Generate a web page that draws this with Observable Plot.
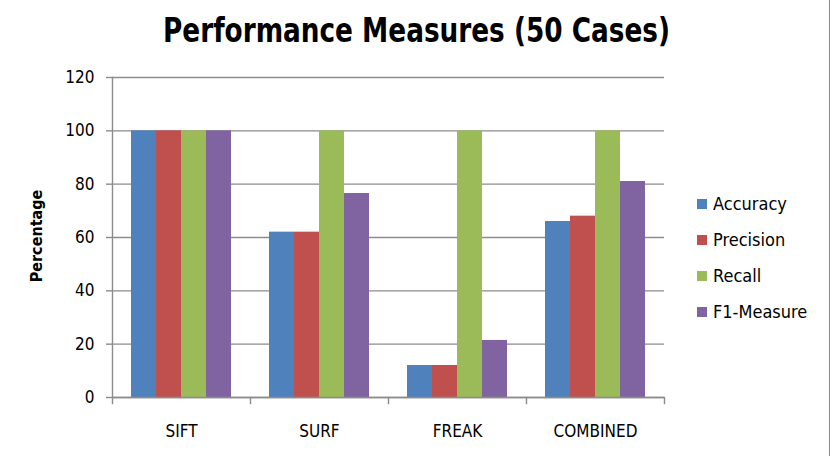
<!DOCTYPE html>
<html>
<head>
<meta charset="utf-8">
<script src="https://cdn.jsdelivr.net/npm/d3@7"></script>
<script src="https://cdn.jsdelivr.net/npm/@observablehq/plot@0.6"></script>
<style>
  html, body { margin: 0; padding: 0; background: #fff; }
  #chart { position: relative; width: 838px; height: 456px; overflow: hidden;
           font-family: "DejaVu Sans Condensed", "DejaVu Sans", sans-serif; color: #000; }
  #chart svg { position: absolute; left: 0; top: 0; }
  .title { position: absolute; left: 0; top: 13px; width: 833px; text-align: center;
           font-size: 34px; line-height: 34px; font-weight: bold;
           transform: scaleX(0.86); transform-origin: 416.5px 50%; white-space: nowrap; }
  .ylabel { position: absolute; left: 36px; top: 236px; transform: translate(-50%, -50%) rotate(-90deg);
            font-size: 16px; font-weight: bold; white-space: nowrap; }
  .legend { position: absolute; left: 697px; top: 186px; }
  .legend .row { display: flex; align-items: center; height: 36px; font-size: 18px; line-height: 20px; }
  .legend .sw { width: 10px; height: 10px; margin-right: 6px; flex: none; }
  .border { position: absolute; left: 829px; top: 0; width: 0; height: 456px; border-left: 1.5px solid #8c8c8c; }
</style>
</head>
<body>
<div id="chart"></div>
<script>
// Detectors compared over 50 cases
const categories = ["SIFT", "SURF", "FREAK", "COMBINED"];
const measures = ["Accuracy", "Precision", "Recall", "F1-Measure"];
const accuracy = [100, 62, 12, 66];
const precision = [100, 62, 12, 68];
const recall = [100, 100, 100, 100];
const f1Measure = [100, 76.5, 21.4, 81];
const colors = ["#4F81BD", "#C0504D", "#9BBB59", "#8064A2"];
const yTicks = [0, 20, 40, 60, 80, 100, 120];

const series = [accuracy, precision, recall, f1Measure];
const rows = categories.flatMap((c, i) =>
  measures.map((m, j) => ({category: c, measure: m, value: series[j][i]})));

const W = 838, H = 456;
const margin = {top: 77, right: 173, bottom: 59, left: 110};
const innerH = H - margin.top - margin.bottom;
const lineColor = "#8c8c8c";

const plot = Plot.plot({
  width: W,
  height: H,
  marginTop: margin.top,
  marginRight: margin.right,
  marginBottom: margin.bottom,
  marginLeft: margin.left,
  style: {fontFamily: '"DejaVu Sans Condensed", "DejaVu Sans", sans-serif', fontSize: "17px", color: "#000", background: "transparent", overflow: "visible"},
  fx: {domain: categories, padding: 0, label: null},
  x: {domain: measures, paddingInner: 0, paddingOuter: 0.75, axis: null},
  y: {domain: [0, 120], label: null},
  color: {domain: measures, range: colors},
  marks: [
    Plot.gridY(yTicks, {stroke: lineColor, strokeOpacity: 1, strokeWidth: 1.4}),
    Plot.barY(rows, {fx: "category", x: "measure", y: "value", fill: "measure"}),
    Plot.ruleY([0], {stroke: lineColor, strokeWidth: 1.4}),
    // category boundary ticks below the baseline
    Plot.frame({anchor: "right", stroke: lineColor, strokeWidth: 1.4, insetTop: innerH, insetBottom: -6}),
    // value axis line
    Plot.frame({anchor: "left", facet: "super", stroke: lineColor, strokeWidth: 1.4, insetBottom: -6}),
    Plot.axisY(yTicks, {tickSize: 6, tickPadding: 12, stroke: lineColor, strokeWidth: 1.4, label: null}),
    Plot.axisFx({anchor: "bottom", tickSize: 0, tickPadding: 27, label: null})
  ]
});

const root = document.getElementById("chart");
root.appendChild(plot);

const title = document.createElement("div");
title.className = "title";
title.textContent = "Performance Measures (50 Cases)";
root.appendChild(title);

const ylabel = document.createElement("div");
ylabel.className = "ylabel";
ylabel.textContent = "Percentage";
root.appendChild(ylabel);

const legend = document.createElement("div");
legend.className = "legend";
measures.forEach((m, j) => {
  const row = document.createElement("div");
  row.className = "row";
  const sw = document.createElement("span");
  sw.className = "sw";
  sw.style.background = colors[j];
  const label = document.createElement("span");
  label.textContent = m;
  row.append(sw, label);
  legend.appendChild(row);
});
root.appendChild(legend);

const border = document.createElement("div");
border.className = "border";
root.appendChild(border);
</script>
</body>
</html>
